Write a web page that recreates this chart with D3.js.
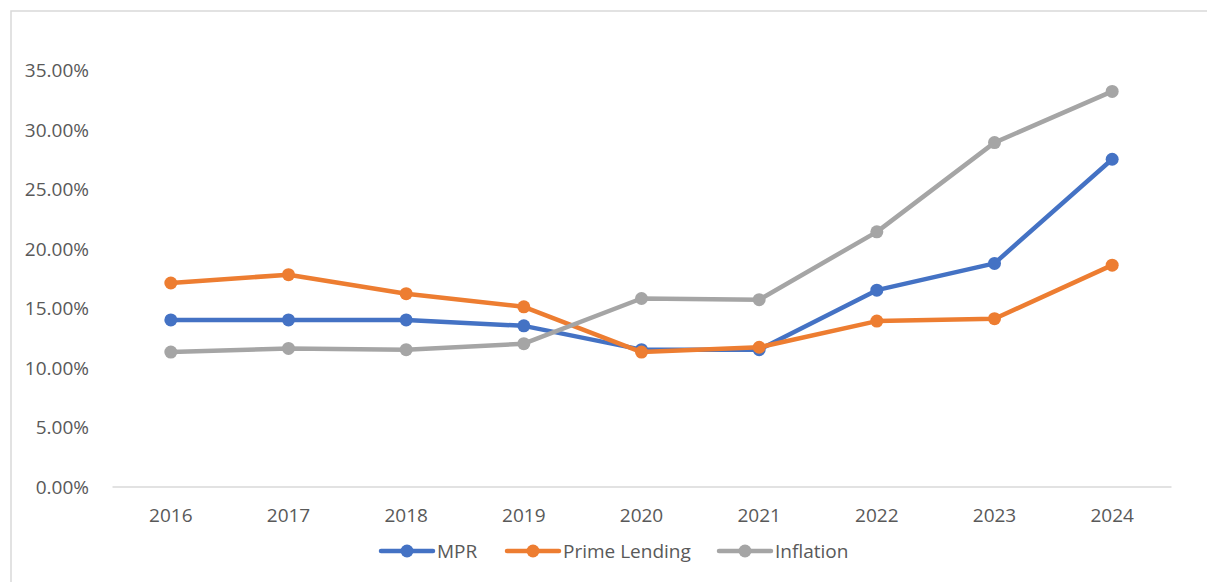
<!DOCTYPE html>
<html>
<head>
<meta charset="utf-8">
<script src="https://cdn.jsdelivr.net/npm/d3@7"></script>
<style>
  html, body { margin: 0; padding: 0; background: #fff; }
  svg { display: block; }
  text { font-family: "Open Sans", "Liberation Sans", sans-serif; fill: #595959; }
</style>
</head>
<body>
<svg id="chart" width="1207" height="582"></svg>
<script>
// Years on the category axis
const years = ["2016", "2017", "2018", "2019", "2020", "2021", "2022", "2023", "2024"];

// Rates in percent
const mpr = [14.0, 14.0, 14.0, 13.5, 11.5, 11.5, 16.5, 18.75, 27.5];
const primeLending = [17.1, 17.8, 16.2, 15.1, 11.3, 11.7, 13.9, 14.1, 18.6];
const inflation = [11.3, 11.6, 11.5, 12.0, 15.8, 15.7, 21.4, 28.9, 33.2];

// Value axis ticks
const yTicks = [0, 5, 10, 15, 20, 25, 30, 35];

const seriesNames = ["MPR", "Prime Lending", "Inflation"];
const seriesColors = ["#4472C4", "#ED7D31", "#A5A5A5"];
const seriesValues = [mpr, primeLending, inflation];

const fontSize = "19px";

const svg = d3.select("#chart");

// Chart frame (top and left edges)
svg.append("path")
  .attr("d", "M11,582 L11,11 L1207,11")
  .attr("fill", "none")
  .attr("stroke", "#d9d9d9")
  .attr("stroke-width", 1.5);

const plot = { left: 112, right: 1171, top: 70, bottom: 486.5 };

const x = d3.scaleBand()
  .domain(years)
  .range([plot.left, plot.right]);

const y = d3.scaleLinear()
  .domain([0, 35])
  .range([plot.bottom, plot.top]);

// Value axis labels (no axis line, no gridlines)
const yAxis = d3.axisLeft(y)
  .tickValues(yTicks)
  .tickSize(0)
  .tickPadding(0)
  .tickFormat(d => d3.format(".2f")(d) + "%");

const gy = svg.append("g")
  .attr("transform", `translate(89,0)`)
  .call(yAxis);
gy.select(".domain").remove();
gy.selectAll("text")
  .style("font-size", fontSize)
  .attr("fill", "#595959")
  .attr("dy", "0.35em");

// Category axis
const xAxis = d3.axisBottom(x).tickSize(0).tickPadding(0);
const gx = svg.append("g")
  .attr("transform", `translate(0,${plot.bottom})`)
  .call(xAxis);
gx.select(".domain")
  .attr("stroke", "#d9d9d9")
  .attr("stroke-width", 1.5);
gx.selectAll("text")
  .style("font-size", fontSize)
  .attr("fill", "#595959")
  .attr("y", 29)
  .attr("dy", "0.35em");

const cx = d => x(d) + x.bandwidth() / 2;

const line = d3.line()
  .x((d, i) => cx(years[i]))
  .y(d => y(d));

seriesValues.forEach((vals, s) => {
  const g = svg.append("g");
  g.append("path")
    .datum(vals)
    .attr("d", line)
    .attr("fill", "none")
    .attr("stroke", seriesColors[s])
    .attr("stroke-width", 4.5)
    .attr("stroke-linejoin", "round")
    .attr("stroke-linecap", "round");
  g.selectAll("circle")
    .data(vals)
    .enter()
    .append("circle")
    .attr("cx", (d, i) => cx(years[i]))
    .attr("cy", d => y(d))
    .attr("r", 6.5)
    .attr("fill", seriesColors[s]);
});

// Legend
const legendItems = [
  { x: 381, name: seriesNames[0], color: seriesColors[0] },
  { x: 507, name: seriesNames[1], color: seriesColors[1] },
  { x: 719, name: seriesNames[2], color: seriesColors[2] }
];
const ly = 551;
const legend = svg.append("g");
legendItems.forEach(item => {
  legend.append("line")
    .attr("x1", item.x).attr("x2", item.x + 52)
    .attr("y1", ly).attr("y2", ly)
    .attr("stroke", item.color)
    .attr("stroke-width", 4.5)
    .attr("stroke-linecap", "round");
  legend.append("circle")
    .attr("cx", item.x + 26).attr("cy", ly)
    .attr("r", 6.5)
    .attr("fill", item.color);
  legend.append("text")
    .attr("x", item.x + 56)
    .attr("y", ly)
    .attr("dy", "0.35em")
    .style("font-size", fontSize)
    .text(item.name);
});
</script>
</body>
</html>
